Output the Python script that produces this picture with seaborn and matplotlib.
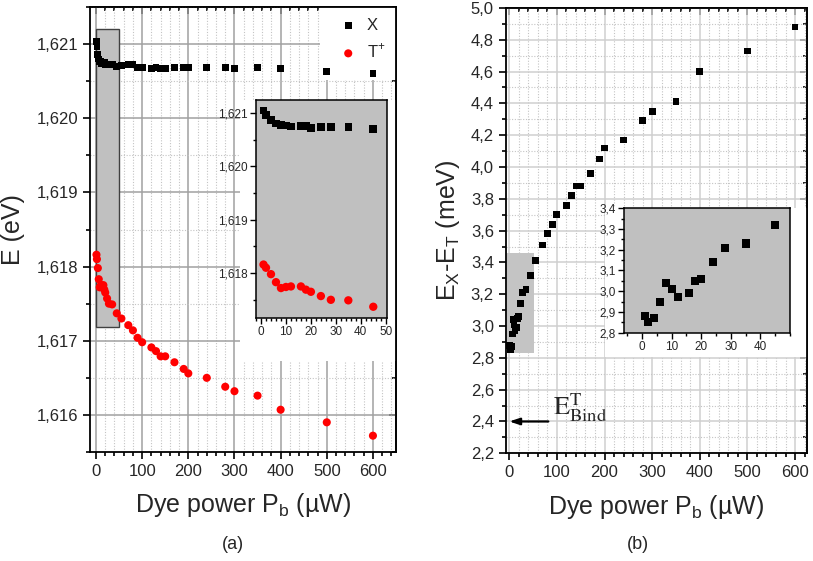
import matplotlib
matplotlib.use("Agg")
import matplotlib.pyplot as plt
import seaborn as sns
import pandas as pd
from matplotlib.ticker import MultipleLocator, FuncFormatter, NullFormatter
from matplotlib.patches import Rectangle

# Dye power P_b (µW)
power = [1, 2, 4, 6, 8, 10, 12, 16, 18, 20, 24, 28, 35, 45, 55, 70, 80, 90, 100,
         120, 130, 140, 150, 170, 190, 200, 240, 280, 300, 350, 400, 500, 600]

# Exciton (X) energy, eV
energy_x = [1.62104, 1.62096, 1.62086, 1.62080, 1.62077, 1.62076, 1.62074, 1.62075,
            1.62075, 1.62072, 1.62073, 1.62073, 1.62073, 1.62070, 1.62071, 1.62072,
            1.62072, 1.62068, 1.62068, 1.62067, 1.62068, 1.62067, 1.62067, 1.62068,
            1.62068, 1.62068, 1.62068, 1.62068, 1.62067, 1.62068, 1.62067, 1.62063,
            1.62060]

# Trion (T+) energy, eV
energy_t = [1.61816, 1.61810, 1.61798, 1.61783, 1.61772, 1.61774, 1.61775, 1.61775,
            1.61769, 1.61765, 1.61757, 1.61750, 1.61749, 1.61737, 1.61730, 1.61721,
            1.61714, 1.61704, 1.61698, 1.61691, 1.61686, 1.61679, 1.61679, 1.61671,
            1.61662, 1.61656, 1.61650, 1.61638, 1.61632, 1.61626, 1.61607, 1.61590,
            1.61572]

# E_X - E_T, meV
delta_e = [2.88, 2.85, 2.87, 2.95, 3.04, 3.01, 2.97, 2.99, 3.05, 3.06, 3.14, 3.21,
           3.23, 3.32, 3.41, 3.51, 3.58, 3.64, 3.70, 3.76, 3.82, 3.88, 3.88, 3.96,
           4.05, 4.12, 4.17, 4.29, 4.35, 4.41, 4.60, 4.73, 4.88]

binding_energy = 2.40
inset_max_power = 50

df = pd.DataFrame({"power": power, "ex": energy_x, "et": energy_t, "de": delta_e})
low = df[df["power"] <= inset_max_power]

sns.set_style("ticks")
plt.rcParams["font.family"] = ["Liberation Sans", "DejaVu Sans"]
plt.rcParams["mathtext.fontset"] = "dejavusans"

fig = plt.figure(figsize=(8.13, 5.61), dpi=100)
fig.patch.set_facecolor("white")

ax_a = fig.add_axes([0.1107, 0.1943, 0.3764, 0.7932])
ax_b = fig.add_axes([0.6220, 0.1920, 0.3706, 0.7938])


def comma(fmt):
    return FuncFormatter(lambda v, p: format(v, fmt).replace(".", ","))


def style_main(ax, major_grid, xmaj, xmin, ymaj, ymin):
    for sp in ax.spines.values():
        sp.set_linewidth(1.3)
        sp.set_color("black")
        sp.set_visible(True)
    ax.xaxis.set_major_locator(MultipleLocator(xmaj))
    ax.xaxis.set_minor_locator(MultipleLocator(xmin))
    ax.yaxis.set_major_locator(MultipleLocator(ymaj))
    ax.yaxis.set_minor_locator(MultipleLocator(ymin))
    ax.tick_params(which="both", direction="out", top=False, right=False,
                   labelsize=12, color="black", width=1.2)
    ax.tick_params(which="major", length=5)
    ax.tick_params(which="minor", length=3)
    ax.set_axisbelow(True)
    ax.grid(which="major", color=major_grid, lw=1.1, ls="-")
    ax.grid(which="minor", color="#c4c4c4", lw=0.8, ls=(0, (1, 1.5)))
    # inward ticks along the top and right spines
    top = ax.secondary_xaxis("top")
    top.xaxis.set_major_locator(MultipleLocator(xmaj))
    top.xaxis.set_minor_locator(MultipleLocator(xmin))
    top.xaxis.set_major_formatter(NullFormatter())
    top.tick_params(which="both", direction="in", width=1.2, color="black")
    top.tick_params(which="major", length=5)
    top.tick_params(which="minor", length=3)
    top.spines["top"].set_linewidth(1.3)
    right = ax.secondary_yaxis("right")
    right.yaxis.set_major_locator(MultipleLocator(ymaj))
    right.yaxis.set_minor_locator(MultipleLocator(ymin))
    right.yaxis.set_major_formatter(NullFormatter())
    right.tick_params(which="both", direction="in", width=1.2, color="black")
    right.tick_params(which="major", length=5)
    right.tick_params(which="minor", length=3)
    right.spines["right"].set_linewidth(1.3)


# ---------------- panel (a) ----------------
sns.scatterplot(data=df, x="power", y="ex", marker="s", s=24, color="black",
                edgecolor="none", label="X", ax=ax_a, zorder=4)
sns.scatterplot(data=df, x="power", y="et", marker="o", s=34, color="#ff0000",
                edgecolor="none", label=r"T$^\mathregular{+}$", ax=ax_a, zorder=4)
ax_a.set_xlim(-13, 650)
ax_a.set_ylim(1.6155, 1.6215)
style_main(ax_a, "#a0a0a0", 100, 20, 0.001, 0.0005)
ax_a.yaxis.set_major_formatter(comma(".3f"))

ax_a.set_xlabel(r"Dye power P$_\mathregular{b}$ (µW)", fontsize=18, labelpad=9)
ax_a.set_ylabel("E (eV)", fontsize=18, labelpad=8)

# zoom window marker
ax_a.add_patch(Rectangle((0, 1.61718), inset_max_power, 1.62121 - 1.61718,
                         facecolor="#c0c0c0", edgecolor="#404040", lw=1.0, zorder=2))
# white backing for legend and inset layers
ax_a.add_patch(Rectangle((0.752, 0.836), 0.248, 0.164, transform=ax_a.transAxes,
                         facecolor="white", edgecolor="none", zorder=2))
ax_a.add_patch(Rectangle((0.49, 0.2045), 0.51, 0.5865, transform=ax_a.transAxes,
                         facecolor="white", edgecolor="none", zorder=2))

leg = ax_a.legend(loc="upper right", bbox_to_anchor=(1.0, 1.0), frameon=False,
                  fontsize=12, handletextpad=0.6, labelspacing=0.55,
                  borderaxespad=0.25, handlelength=1.0, markerscale=1.0)

# inset (a)
ax_ai = fig.add_axes([0.3149, 0.4332, 0.1611, 0.3886])
ax_ai.set_facecolor("#c0c0c0")
sns.scatterplot(data=low, x="power", y="ex", marker="s", s=30, color="black",
                edgecolor="none", ax=ax_ai, zorder=3)
sns.scatterplot(data=low, x="power", y="et", marker="o", s=36, color="#ff0000",
                edgecolor="none", ax=ax_ai, zorder=3)
ax_ai.set_xlim(-2, 50.5)
ax_ai.set_ylim(1.61716, 1.62124)
ax_ai.xaxis.set_major_locator(MultipleLocator(10))
ax_ai.xaxis.set_minor_locator(MultipleLocator(2))
ax_ai.yaxis.set_major_locator(MultipleLocator(0.001))
ax_ai.yaxis.set_minor_locator(MultipleLocator(0.0005))
ax_ai.yaxis.set_major_formatter(comma(".3f"))

# ---------------- panel (b) ----------------
ax_b.add_patch(Rectangle((-4, 2.83), 56, 0.63, facecolor="#c4c4c4",
                         edgecolor="none", zorder=2))
sns.scatterplot(data=df, x="power", y="de", marker="s", s=24, color="black",
                edgecolor="none", ax=ax_b, zorder=4)
ax_b.set_xlim(-7.5, 625)
ax_b.set_ylim(2.2, 5.0)
style_main(ax_b, "#cfcfcf", 100, 20, 0.2, 0.1)
ax_b.yaxis.set_major_formatter(comma(".1f"))
ax_b.set_xlabel(r"Dye power P$_\mathregular{b}$ (µW)", fontsize=18, labelpad=9)
ax_b.set_ylabel(r"E$_\mathregular{X}$-E$_\mathregular{T}$ (meV)", fontsize=18, labelpad=6)

ax_b.add_patch(Rectangle((0.3296, 0.216), 0.6704, 0.334, transform=ax_b.transAxes,
                         facecolor="white", edgecolor="none", zorder=2))

ax_b.annotate("", xy=(0, binding_energy), xytext=(82, binding_energy),
              arrowprops=dict(arrowstyle="-|>,head_length=0.6,head_width=0.2",
                              color="black", lw=1.6, shrinkA=0, shrinkB=0), zorder=5)
ax_b.text(91, 2.445, r"$\mathrm{E}_{\mathrm{Bind}}^{\mathrm{T}}$", fontsize=19,
          math_fontfamily="stix", ha="left", va="baseline", zorder=5)

# inset (b)
ax_bi = fig.add_axes([0.7679, 0.4070, 0.2038, 0.2217])
ax_bi.set_facecolor("#c0c0c0")
sns.scatterplot(data=low, x="power", y="de", marker="s", s=34, color="black",
                edgecolor="none", ax=ax_bi, zorder=3)
ax_bi.set_xlim(-6, 50)
ax_bi.set_ylim(2.8, 3.4)
ax_bi.xaxis.set_major_locator(MultipleLocator(10))
ax_bi.xaxis.set_minor_locator(MultipleLocator(5))
ax_bi.yaxis.set_major_locator(MultipleLocator(0.1))
ax_bi.yaxis.set_minor_locator(MultipleLocator(0.05))
ax_bi.yaxis.set_major_formatter(comma(".1f"))
ax_bi.set_xticks([0, 10, 20, 30, 40])

for ax in (ax_ai, ax_bi):
    ax.set_xlabel("")
    ax.set_ylabel("")
    ax.grid(False)
    for sp in ax.spines.values():
        sp.set_visible(True)
        sp.set_linewidth(1.1)
        sp.set_color("black")
    ax.tick_params(which="both", direction="out", labelsize=8.5, top=False,
                   right=False, width=1.0, color="black", pad=2)
    ax.tick_params(which="major", length=4)
    ax.tick_params(which="minor", length=2)

fig.text(0.2866, 0.030, "(a)", fontsize=13, ha="center", va="center")
fig.text(0.7848, 0.030, "(b)", fontsize=13, ha="center", va="center")

fig.savefig("out.png", dpi=100, facecolor="white")
